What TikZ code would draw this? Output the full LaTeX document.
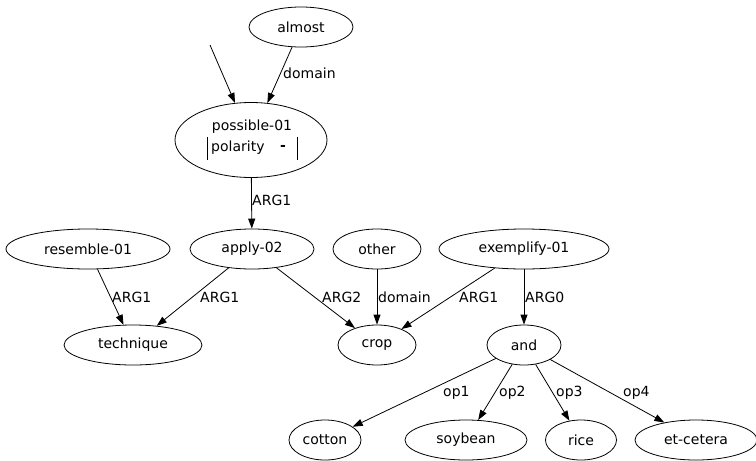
\documentclass[tikz,border=0pt]{standalone}
\usepackage{fontspec}
\setmainfont{DejaVu Sans}
\usetikzlibrary{arrows.meta,shapes.geometric}
\begin{document}
\begin{tikzpicture}[x=1pt,y=-1pt,
  every node/.style={font=\fontsize{14}{16}\selectfont},
  concept/.style={draw, ellipse, inner sep=0pt, minimum height=40pt, line width=0.8pt},
  rel/.style={draw, -{Triangle[length=10pt,width=7pt]}, line width=0.8pt},
  lab/.style={anchor=west, inner sep=0pt}]
\useasboundingbox (0,0) rectangle (756,461);
% nodes
\node[concept, minimum width=104pt] (almost) at (301,27) {almost};
\node[concept, minimum width=152pt, minimum height=75pt] (poss) at (251,140) {};
\node (posst) at (252,127) {possible-01};
\node[lab] (ppol) at (211,148) {polarity};
\node (pdash) at (283,148) {\textbf{-}};
\draw[line width=0.8pt] (207,137) -- (207,160);
\draw[line width=0.8pt] (297,137) -- (297,160);
\coordinate (free) at (210,45);
\node[concept, minimum width=124pt] (apply) at (252,249) {apply-02};
\node[concept, minimum width=164pt] (res) at (88,249) {resemble-01};
\node[concept, minimum width=88pt] (other) at (377,249) {other};
\node[concept, minimum width=170pt] (ex) at (524,249) {exemplify-01};
\node[concept, minimum width=138pt] (tech) at (133,345) {technique};
\node[concept, minimum width=78pt] (crop) at (377,345) {crop};
\node[concept, minimum width=74pt] (and) at (524,345) {and};
\node[concept, minimum width=72pt] (cot) at (325,440) {cotton};
\node[concept, minimum width=122pt] (soy) at (466,440) {soybean};
\node[concept, minimum width=71pt] (rice) at (581,440) {rice};
\node[concept, minimum width=122pt] (etc) at (696,440) {et-cetera};
% edges
\draw[rel] (free) -- (poss);
\draw[rel] (almost) -- (poss);
\draw[rel] (poss) -- (apply);
\draw[rel] (res) -- (tech);
\draw[rel] (apply) -- (tech);
\draw[rel] (apply) -- (crop);
\draw[rel] (other) -- (crop);
\draw[rel] (ex) -- (crop);
\draw[rel] (ex) -- (and);
\draw[rel] (and) -- (cot);
\draw[rel] (and) -- (soy);
\draw[rel] (and) -- (rice);
\draw[rel] (and) -- (etc);
% labels
\node[lab] (l1) at (283,73) {domain};
\node[lab] (l2) at (252,200) {ARG1};
\node[lab] (l3) at (112,297) {ARG1};
\node[lab] (l4) at (200,297) {ARG1};
\node[lab] (l5) at (322,297) {ARG2};
\node[lab] (l6) at (378,297) {domain};
\node[lab] (l7) at (459,297) {ARG1};
\node[lab] (l8) at (525,297) {ARG0};
\node[lab] (l9) at (443,393) {op1};
\node[lab] (l10) at (499,393) {op2};
\node[lab] (l11) at (556,393) {op3};
\node[lab] (l12) at (623,393) {op4};
\end{tikzpicture}
\end{document}
